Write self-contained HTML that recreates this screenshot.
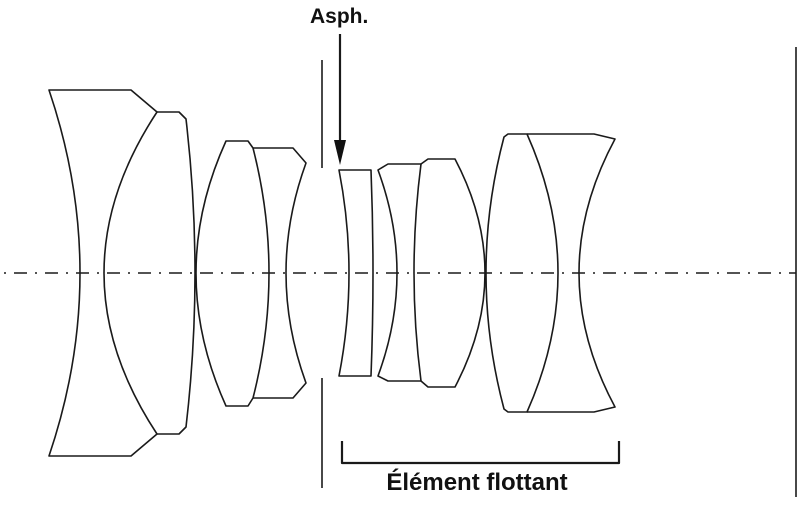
<!DOCTYPE html>
<html><head><meta charset="utf-8"><style>
html,body{margin:0;padding:0;background:#fff;}
svg{display:block;}
text{font-family:"Liberation Sans",Arial,sans-serif;font-weight:bold;fill:#111;}
</style></head><body>
<svg width="800" height="508" viewBox="0 0 800 508" xmlns="http://www.w3.org/2000/svg">
<g fill="none" stroke="#1a1a1a" stroke-width="1.6" stroke-linejoin="round">
<line x1="4" y1="273" x2="796" y2="273" stroke-width="1.6" stroke-dasharray="2 8 13 8" />
<path d="M49,90 L131,90 L157,112 Q51,273 157,434 L131,456 L49,456 Q111,273 49,90 Z"/>
<path d="M157,112 L179,112 L186,119 Q204,273 186,427 L179,434 L157,434"/>
<path d="M226,141 L248,141 L253,148 Q285,273 253,398 L248,406 L226,406 Q166,273 226,141 Z"/>
<path d="M253,148 L293,148 L306,163 Q266,273 306,383 L293,398 L253,398"/>
<line x1="322" y1="60" x2="322" y2="168"/>
<line x1="322" y1="378" x2="322" y2="488"/>
<path d="M339,170 L371,170 Q375,273 371,376 L339,376 Q359,273 339,170 Z"/>
<path d="M378,170 L388,164 L421,164 Q407,273 421,381 L388,381 L378,376 Q416,273 378,170 Z"/>
<path d="M421,164 L428,159 L455,159 Q515,273 455,387 L428,387 L421,381"/>
<path d="M527,134 L508,134 L504,137 Q468,273 504,409 L508,412 L527,412 Q589,273 527,134 Z"/>
<path d="M527,134 L594,134 L615,139 Q543,273 615,407 L594,412 L527,412"/>
<line x1="796" y1="47" x2="796" y2="497"/>
<path d="M342,441 L342,463 L619,463 L619,441" stroke-width="2.2"/>
<line x1="340" y1="34" x2="340" y2="145" stroke-width="2.2"/>
</g>
<polygon points="334,140 346,140 340,165" fill="#111"/>
<text x="310" y="23" font-size="21">Asph.</text>
<text x="477" y="490" font-size="24" text-anchor="middle">Élément flottant</text>
</svg>
</body></html>
